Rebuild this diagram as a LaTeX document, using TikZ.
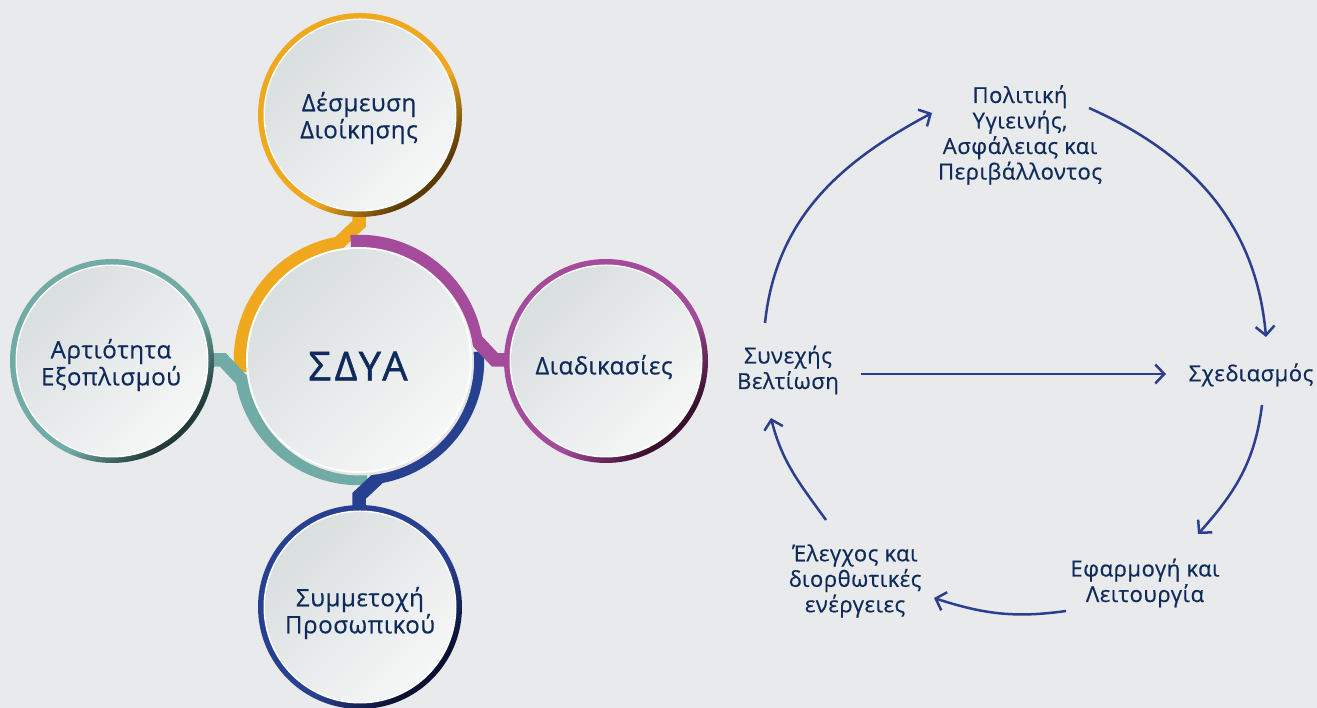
\documentclass[tikz,border=0pt]{standalone}
\usepackage{fontspec}
\setmainfont{Open Sans}[FakeBold=0.6,LetterSpace=2.5]
\newfontfamily\bigfont{Open Sans}[FakeBold=1.2,LetterSpace=9]
\usetikzlibrary{arrows.meta,calc}
\definecolor{bg}{HTML}{E9EAEC}
\definecolor{txt}{HTML}{0F2B5B}
\definecolor{arr}{HTML}{2C3E8F}
\definecolor{cO}{HTML}{F0A91F}
\definecolor{cOd}{HTML}{5C3A06}
\definecolor{cP}{HTML}{A54B9B}
\definecolor{cPd}{HTML}{3B0F2E}
\definecolor{cB}{HTML}{27408F}
\definecolor{cBd}{HTML}{0B1030}
\definecolor{cT}{HTML}{70ACA5}
\definecolor{cTd}{HTML}{213B3A}
\definecolor{fillA}{HTML}{D9DEDF}
\definecolor{fillB}{HTML}{F6F7F7}
\pgfdeclareverticalshading{ringO}{100bp}{color(0bp)=(cOd); color(27bp)=(cOd); color(42bp)=(cO); color(100bp)=(cO)}
\pgfdeclareverticalshading{ringP}{100bp}{color(0bp)=(cPd); color(27bp)=(cPd); color(42bp)=(cP); color(100bp)=(cP)}
\pgfdeclareverticalshading{ringB}{100bp}{color(0bp)=(cBd); color(27bp)=(cBd); color(42bp)=(cB); color(100bp)=(cB)}
\pgfdeclareverticalshading{ringT}{100bp}{color(0bp)=(cTd); color(27bp)=(cTd); color(42bp)=(cT); color(100bp)=(cT)}
% #1 centre coordinate, #2 ring shading
\newcommand\mysat[2]{%
  \shade[shading=#2,shading angle=45] (#1) circle (102pt);
  \fill[white] (#1) circle (96.5pt);
  \shade[top color=fillA,bottom color=fillB,shading angle=45] (#1) circle (95pt);}
\tikzset{
  band/.style={line width=13.5pt,line cap=butt,line join=miter},
  sattext/.style={font=\fontsize{24}{27}\selectfont,text=txt,align=center,inner sep=0pt},
  rtext/.style={font=\fontsize{22}{25.5}\selectfont,text=txt,align=center,inner sep=0pt},
  cyc/.style={draw=arr,line width=2.5pt,-{Straight Barb[length=9pt,width=19pt]}}
}
\begin{document}
\begin{tikzpicture}[x=1pt,y=1pt]
\fill[bg] (0,0) rectangle (1317,708);
\useasboundingbox (0,0) rectangle (1317,708);
% ---- left diagram ----
\coordinate (C) at (359,348);
\begin{scope}[shift={(359,348)}]
  \draw[band,cO] (90:150pt) -- (90:136pt) -- (100:118.5pt) arc[start angle=100,end angle=186,radius=118.5pt];
  \draw[band,cT] (180:150pt) -- (180:136pt) -- (190:118.5pt) arc[start angle=190,end angle=274,radius=118.5pt];
  \draw[band,cB] (270:150pt) -- (270:136pt) -- (280:118.5pt) arc[start angle=280,end angle=364,radius=118.5pt];
  \draw[band,cP] (0:150pt) -- (0:136pt) -- (10:118.5pt) arc[start angle=10,end angle=94,radius=118.5pt];
\end{scope}
\fill[black!10] ($(C)+(1.5,-2)$) circle (113.5pt);
\fill[white] (C) circle (113pt);
\shade[top color=fillA,bottom color=fillB,shading angle=45] (C) circle (111pt);
\node[font=\bigfont\fontsize{40}{44}\selectfont,text=txt,inner sep=0pt] (sdya) at (358,342) {ΣΔΥΑ};
\coordinate (pT) at (360,593);
\coordinate (pL) at (112,347);
\coordinate (pR) at (606,347);
\coordinate (pB) at (360,101);
\mysat{pT}{ringO}
\node[sattext] (top) at (359,590) {Δέσμευση\\Διοίκησης};
\mysat{pL}{ringT}
\node[sattext] (left) at (111,343) {Αρτιότητα\\Εξοπλισμού};
\mysat{pR}{ringP}
\node[sattext] (right) at (604,341) {Διαδικασίες};
\mysat{pB}{ringB}
\node[sattext] (bottom) at (360,95) {Συμμετοχή\\Προσωπικού};
% ---- right cycle ----
\node[rtext] (P) at (1020,573) {Πολιτική\\Υγιεινής,\\Ασφάλειας και\\Περιβάλλοντος};
\node[rtext] (S) at (788,338) {Συνεχής\\Βελτίωση};
\node[rtext] (X) at (1251,333) {Σχεδιασμός};
\node[rtext] (E) at (1145,125) {Εφαρμογή και\\Λειτουργία};
\node[rtext] (K) at (855,127) {Έλεγχος και\\διορθωτικές\\ενέργειες};
\coordinate (a1s) at (765,385); \coordinate (a1e) at (932,595);
\coordinate (a2s) at (1089,600); \coordinate (a2e) at (1266,371);
\coordinate (a3s) at (861,334); \coordinate (a3e) at (1166,334);
\coordinate (a4s) at (1262,303); \coordinate (a4e) at (1198,174);
\coordinate (a5s) at (1066,97); \coordinate (a5e) at (934,110);
\coordinate (a6s) at (826,188); \coordinate (a6e) at (771,290);
\draw[cyc] (a1s) to[out=84,in=208] (a1e);
\draw[cyc] (a2s) to[out=-24,in=95] (a2e);
\draw[cyc] (a3s) -- (a3e);
\draw[cyc] (a4s) to[out=-97,in=48] (a4e);
\draw[cyc] (a5s) to[out=188,in=-18] (a5e);
\draw[cyc] (a6s) to[out=126,in=-76] (a6e);
\end{tikzpicture}
\end{document}
